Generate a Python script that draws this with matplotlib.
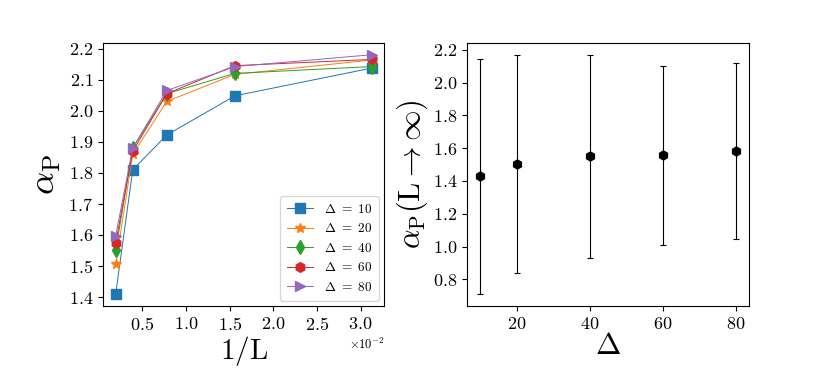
import matplotlib
matplotlib.use("Agg")
import matplotlib.pyplot as plt
from matplotlib.ticker import MultipleLocator

plt.rcParams["font.family"] = "serif"
plt.rcParams["font.serif"] = ["cmr10", "DejaVu Serif"]
plt.rcParams["mathtext.fontset"] = "cm"
plt.rcParams["axes.formatter.use_mathtext"] = True

# tamaños de sistema y 1/L
L_values = [512, 256, 128, 64, 32]
inv_L = [1.0 / L for L in L_values]

deltas = [10, 20, 40, 60, 80]
alpha_d10 = [1.410, 1.810, 1.922, 2.048, 2.137]
alpha_d20 = [1.505, 1.860, 2.030, 2.117, 2.163]
alpha_d40 = [1.550, 1.880, 2.055, 2.120, 2.142]
alpha_d60 = [1.575, 1.870, 2.055, 2.145, 2.165]
alpha_d80 = [1.598, 1.880, 2.065, 2.142, 2.180]
series = [alpha_d10, alpha_d20, alpha_d40, alpha_d60, alpha_d80]
markers = ["s", "*", "d", "h", ">"]

# extrapolacion L -> infinito
alpha_inf = [1.428, 1.505, 1.550, 1.557, 1.582]
alpha_inf_err = [0.717, 0.664, 0.620, 0.547, 0.536]

fig = plt.figure(figsize=(8.3, 3.69), dpi=100)
ax1 = fig.add_axes([0.124, 0.171, 0.339, 0.713])
ax2 = fig.add_axes([0.563, 0.171, 0.339, 0.713])

for d, vals, m in zip(deltas, series, markers):
    ax1.plot(inv_L, vals, marker=m, markersize=7, linewidth=0.7,
             label=r"$\Delta\ =\ %d$" % d)
ax1.xaxis.set_major_locator(MultipleLocator(0.005))
ax1.yaxis.set_major_locator(MultipleLocator(0.1))
ax1.ticklabel_format(axis="x", style="sci", scilimits=(-1, 1))
ax1.set_xlabel(r"$1/\mathrm{L}$", fontsize=21, labelpad=1)
ax1.set_ylabel(r"$\alpha_{\rm P}$", fontsize=26, labelpad=4)
ax1.tick_params(labelsize=13)
ax1.xaxis.get_offset_text().set_fontsize(9)
ax1.legend(loc="lower right", fontsize=9.5, borderpad=0.5,
           borderaxespad=0.2, bbox_to_anchor=(0.99, 0.01))

ax2.errorbar(deltas, alpha_inf, yerr=alpha_inf_err, fmt="h", color="k",
             markersize=6.5, elinewidth=0.8, capsize=2.5, capthick=0.8)
ax2.set_xticks([20, 40, 60, 80])
ax2.yaxis.set_major_locator(MultipleLocator(0.2))
ax2.set_xlabel(r"$\Delta$", fontsize=22, labelpad=1)
ax2.set_ylabel(r"$\alpha_{\rm P}(\mathrm{L}\rightarrow\infty)$", fontsize=22,
               labelpad=2)
ax2.tick_params(labelsize=13)

fig.savefig("out.png", dpi=100)
